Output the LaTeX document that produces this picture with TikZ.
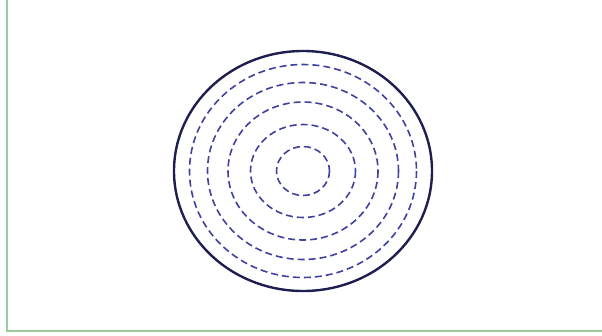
\documentclass[tikz,border=0pt]{standalone}
\definecolor{framegreen}{HTML}{9CCC9C}
\definecolor{rimcol}{HTML}{1E1E50}
\definecolor{ringcol}{HTML}{4040A0}
\begin{document}
\begin{tikzpicture}[x=1pt,y=-1pt,
  frame/.style={draw=framegreen, line width=2pt},
  rim/.style={draw=rimcol, line width=2.4pt},
  ring/.style={draw=ringcol, line width=1.6pt, dash pattern=on 7pt off 4pt}]
\useasboundingbox (0,0) rectangle (602,335);
\coordinate (c) at (303,171);
\draw[frame] (7,0) -- (7,331) -- (602,331);
\draw[rim] (c) ellipse [x radius=129, y radius=120];
\draw[ring] (c) ellipse [x radius=113.5, y radius=106.5];
\draw[ring] (c) ellipse [x radius=95.5, y radius=88.5];
\draw[ring] (c) ellipse [x radius=75, y radius=69];
\draw[ring] (c) ellipse [x radius=52.5, y radius=46.5];
\draw[ring] (c) ellipse [x radius=26.5, y radius=24.5];
\end{tikzpicture}
\end{document}
